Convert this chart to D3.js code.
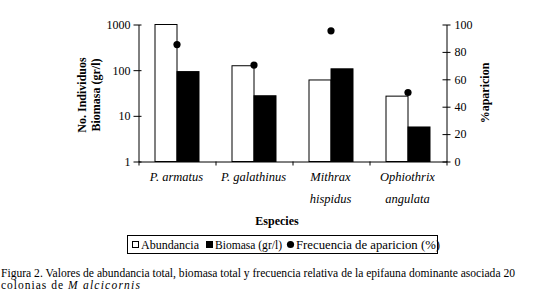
<!DOCTYPE html>
<html>
<head>
<meta charset="utf-8">
<script src="https://cdn.jsdelivr.net/npm/d3@7"></script>
<style>
  body { margin: 0; background: #fff; }
  text { font-family: "Liberation Serif", "Times New Roman", serif; fill: #000; }
</style>
</head>
<body>
<div class="chart"></div>
<script>
// Data
const species = [["P. armatus"], ["P. galathinus"], ["Mithrax", "hispidus"], ["Ophiothrix", "angulata"]];
const abundancia = [1000, 125, 61, 27];
const biomasa = [93, 27.5, 107, 5.7];
const frecuencia = [85, 70, 95, 50];
const leftTicks = [1, 10, 100, 1000];
const rightTicks = [0, 20, 40, 60, 80, 100];

const width = 554, height = 300;
const svg = d3.select(".chart").append("svg")
    .attr("width", width)
    .attr("height", height);

const plot = { left: 138, right: 446, top: 24, bottom: 161 };

// Scales
const xScale = d3.scaleBand()
    .domain(d3.range(species.length))
    .range([plot.left, plot.right]);
const yLeft = d3.scaleLog().domain([1, 1000]).range([plot.bottom, plot.top]);
const yRight = d3.scaleLinear().domain([0, 100]).range([plot.bottom, plot.top]);

const barW = 22;
const groupOffset = (xScale.bandwidth() - 2 * barW) / 2;

// Abundancia bars (white)
svg.selectAll(".abund")
    .data(abundancia)
    .join("rect")
    .attr("class", "abund")
    .attr("x", (d, i) => xScale(i) + groupOffset + 0.5)
    .attr("y", d => yLeft(d) + 0.5)
    .attr("width", barW)
    .attr("height", d => plot.bottom - yLeft(d))
    .attr("fill", "#fff")
    .attr("stroke", "#000");

// Biomasa bars (black)
svg.selectAll(".bio")
    .data(biomasa)
    .join("rect")
    .attr("class", "bio")
    .attr("x", (d, i) => xScale(i) + groupOffset + barW + 0.5)
    .attr("y", d => yLeft(d) + 0.5)
    .attr("width", barW)
    .attr("height", d => plot.bottom - yLeft(d))
    .attr("fill", "#000")
    .attr("stroke", "#000");

// Frecuencia points
svg.selectAll(".freq")
    .data(frecuencia)
    .join("circle")
    .attr("class", "freq")
    .attr("cx", (d, i) => xScale(i) + groupOffset + barW + 0.5)
    .attr("cy", d => yRight(d))
    .attr("r", 3.6)
    .attr("fill", "#000");

// Axes
const leftAxis = d3.axisLeft(yLeft)
    .tickValues(leftTicks)
    .tickFormat(d3.format("d"))
    .tickSizeOuter(0);
const gl = svg.append("g")
    .attr("transform", "translate(" + (plot.left + 0.5) + ",0.5)")
    .call(leftAxis);
gl.selectAll(".tick line").attr("x2", -5).attr("x1", 3);

const rightAxis = d3.axisRight(yRight)
    .tickValues(rightTicks)
    .tickSizeOuter(0);
const gr = svg.append("g")
    .attr("transform", "translate(" + (plot.right + 0.5) + ",0.5)")
    .call(rightAxis);
gr.selectAll(".tick line").attr("x1", -4).attr("x2", 4);

const xAxis = d3.axisBottom(d3.scaleLinear().domain([0, species.length]).range([plot.left, plot.right]))
    .tickValues(d3.range(species.length + 1))
    .tickFormat("")
    .tickSizeInner(4)
    .tickSizeOuter(0);
svg.append("g")
    .attr("transform", "translate(0.5," + (plot.bottom + 0.5) + ")")
    .call(xAxis);

svg.selectAll(".domain").attr("stroke", "#000");
svg.selectAll(".tick line").attr("stroke", "#000");
svg.selectAll(".tick text")
    .style("font-family", "Liberation Serif, serif")
    .style("font-size", "12px");
gl.selectAll(".tick text").attr("x", -8);
gr.selectAll(".tick text").attr("x", 8);

// Category labels
const catLabels = svg.selectAll(".cat")
    .data(species)
    .join("text")
    .attr("class", "cat")
    .attr("x", (d, i) => xScale(i) + xScale.bandwidth() / 2)
    .attr("y", 181)
    .attr("text-anchor", "middle")
    .style("font-style", "italic")
    .style("font-size", "12.5px");
catLabels.each(function (d) {
    const t = d3.select(this);
    d.forEach((line, j) => {
        t.append("tspan")
            .attr("x", t.attr("x"))
            .attr("dy", j === 0 ? 0 : 22)
            .text(line);
    });
});

// Axis titles
svg.append("text")
    .attr("x", 277)
    .attr("y", 225)
    .attr("text-anchor", "middle")
    .style("font-weight", "bold")
    .style("font-size", "12px")
    .text("Especies");

const yTitle = svg.append("text")
    .attr("transform", "translate(86,95) rotate(-90)")
    .attr("text-anchor", "middle")
    .style("font-weight", "bold")
    .style("font-size", "12px");
yTitle.append("tspan").attr("x", 0).attr("y", 0).text("No. Individuos");
yTitle.append("tspan").attr("x", 0).attr("y", 14).text("Biomasa (gr/l)");

svg.append("text")
    .attr("transform", "translate(489,93) rotate(-90)")
    .attr("text-anchor", "middle")
    .style("font-weight", "bold")
    .style("font-size", "12px")
    .text("%aparicion");

// Legend
const legend = svg.append("g").attr("transform", "translate(127,235)");
legend.append("rect")
    .attr("x", 0.5).attr("y", 0.5)
    .attr("width", 310).attr("height", 18)
    .attr("fill", "#fff").attr("stroke", "#000");
const legendItems = [
    { label: "Abundancia", x: 5, len: 58, type: "white" },
    { label: "Biomasa (gr/l)", x: 79, len: 67, type: "black" },
    { label: "Frecuencia de aparicion (%)", x: 160, len: 144, type: "dot" }
];
legendItems.forEach(item => {
    if (item.type === "dot") {
        legend.append("circle").attr("cx", item.x + 3.5).attr("cy", 9.5).attr("r", 3.6).attr("fill", "#000");
    } else {
        legend.append("rect")
            .attr("x", item.x + 0.5).attr("y", 6.5)
            .attr("width", 6).attr("height", 6)
            .attr("fill", item.type === "white" ? "#fff" : "#000")
            .attr("stroke", "#000");
    }
    legend.append("text")
        .attr("x", item.x + 9)
        .attr("y", 13.5)
        .attr("textLength", item.len)
        .attr("lengthAdjust", "spacingAndGlyphs")
        .style("font-size", "12px")
        .text(item.label);
});

// Caption
svg.append("text")
    .attr("x", 1)
    .attr("y", 277)
    .attr("textLength", 514)
    .attr("lengthAdjust", "spacingAndGlyphs")
    .style("font-size", "11.5px")
    .text("Figura 2. Valores de abundancia total, biomasa total y frecuencia relativa de la epifauna dominante asociada 20");
svg.append("text")
    .attr("x", 1)
    .attr("y", 289)
    .attr("textLength", 62)
    .attr("lengthAdjust", "spacing")
    .style("font-size", "11.5px")
    .text("colonias de");
svg.append("text")
    .attr("x", 68)
    .attr("y", 289)
    .attr("textLength", 72)
    .attr("lengthAdjust", "spacing")
    .style("font-size", "11.5px")
    .style("font-style", "italic")
    .text("M alcicornis");
</script>
</body>
</html>
